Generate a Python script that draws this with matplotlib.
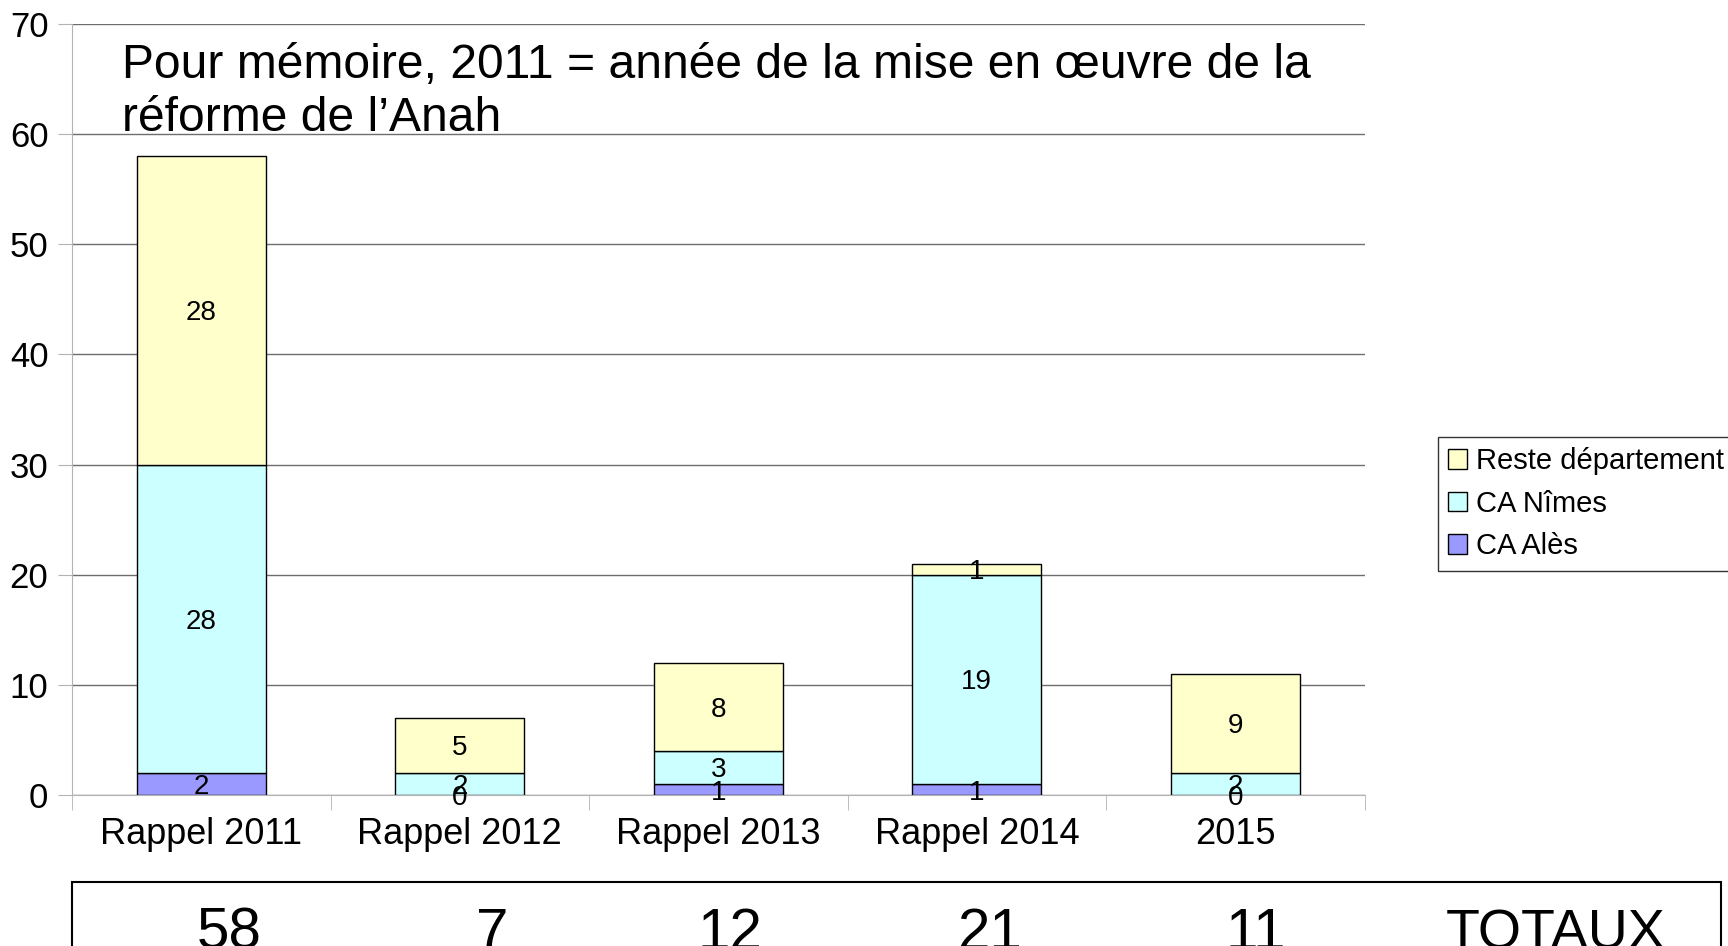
import numpy as np
import matplotlib.pyplot as plt
from matplotlib.patches import Rectangle

plt.rcParams['font.family'] = ['Liberation Sans', 'DejaVu Sans']

categories = ["Rappel 2011", "Rappel 2012", "Rappel 2013", "Rappel 2014", "2015"]
ca_ales = [2, 0, 1, 1, 0]
ca_nimes = [28, 2, 3, 19, 2]
reste = [28, 5, 8, 1, 9]
totaux = [58, 7, 12, 21, 11]

c_ales = "#9999ff"
c_nimes = "#ccffff"
c_reste = "#ffffcc"

fig = plt.figure(figsize=(17.28, 9.46), dpi=100)
ax = fig.add_axes([0.0417, 0.1596, 0.748, 0.815])

x = np.arange(len(categories))
b1 = ax.bar(x, ca_ales, 0.5, color=c_ales, edgecolor="black", lw=1, label="CA Alès")
b2 = ax.bar(x, ca_nimes, 0.5, bottom=ca_ales, color=c_nimes, edgecolor="black", lw=1, label="CA Nîmes")
bot3 = np.array(ca_ales) + np.array(ca_nimes)
b3 = ax.bar(x, reste, 0.5, bottom=bot3, color=c_reste, edgecolor="black", lw=1, label="Reste département")

# labels at segment centres
for vals, bots in [(ca_ales, np.zeros(5)), (ca_nimes, np.array(ca_ales)), (reste, bot3)]:
    for i, (v, b) in enumerate(zip(vals, bots)):
        ax.text(i, b + v / 2, str(v), ha="center", va="center_baseline", fontsize=20)

ax.set_xlim(-0.5, 4.5)
ax.set_ylim(0, 70)
ax.set_yticks(range(0, 71, 10))
ax.yaxis.grid(True, color="#6e6e6e", lw=1)
ax.set_axisbelow(True)
for s in ["top", "right"]:
    ax.spines[s].set_visible(False)
ax.spines["left"].set_color("#b3b3b3")
ax.spines["bottom"].set_color("#b3b3b3")
ax.tick_params(axis="y", labelsize=25, length=10, color="#b3b3b3", pad=7)
ax.set_xticks(x)
ax.set_xticklabels(categories)
ax.tick_params(axis="x", which="major", length=0, labelsize=26, pad=16)
ax.set_xticks(np.arange(-0.5, 5, 1), minor=True)
ax.tick_params(axis="x", which="minor", length=11, color="#b3b3b3")

ax.text(0.0387, 0.975, "Pour mémoire, 2011 = année de la mise en œuvre de la\nréforme de l’Anah",
        transform=ax.transAxes, ha="left", va="top", fontsize=34.6, linespacing=1.22)

leg = fig.legend(handles=[b3, b2, b1], loc="upper left", bbox_to_anchor=(1438 / 1728, 1 - 437 / 946),
                 fontsize=21, frameon=True, fancybox=False, edgecolor="black",
                 handlelength=0.65, handleheight=0.65, handletextpad=0.3, borderpad=0.35,
                 labelspacing=0.5, borderaxespad=0)
leg.get_frame().set_linewidth(1)

# bottom totals box
fig.patches.append(Rectangle((72 / 1728, -0.1), (1721 - 72) / 1728, 1 - 882 / 946 + 0.1,
                             transform=fig.transFigure, fill=False, edgecolor="black", lw=1.5))
tot_x = [229, 492, 730, 990, 1256]
for tx, t in zip(tot_x, totaux):
    fig.text(tx / 1728, -0.003, str(t), ha="center", va="baseline", fontsize=42)
fig.text(1556 / 1728, -0.003, "TOTAUX", ha="center", va="baseline", fontsize=40)

fig.savefig("out.png", dpi=100)
